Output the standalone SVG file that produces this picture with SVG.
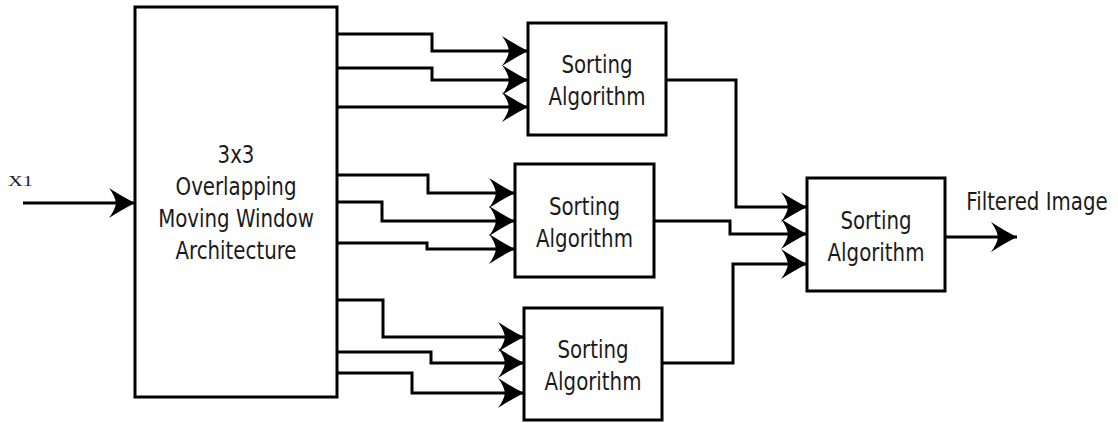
<svg xmlns="http://www.w3.org/2000/svg" width="1118" height="423" viewBox="0 0 1118 423">
<style>
.box{fill:#fff;stroke:#000;stroke-width:3}
.lbl{font-family:"DejaVu Sans Condensed","DejaVu Sans",sans-serif;font-stretch:condensed;font-size:22px;fill:#1a1a1a;text-anchor:middle}
.wire{fill:none;stroke:#000;stroke-width:3;marker-end:url(#arr)}
</style>
<defs>
<marker id="arr" markerUnits="userSpaceOnUse" markerWidth="40" markerHeight="40" refX="0" refY="0" orient="auto" overflow="visible">
<path d="M0,0 Q-12,-6 -26,-15 Q-20,-7 -19,0 Q-20,7 -26,15 Q-12,6 0,0 Z" fill="#000"/>
</marker>
</defs>
<rect width="1118" height="423" fill="#fff"/>
<g id="connectors">
<path class="wire" d="M23,203 H135"/>
<path class="wire" d="M337,34 H432 V51 H528"/>
<path class="wire" d="M337,68 H432 V80 H528"/>
<path class="wire" d="M337,107 H528"/>
<path class="wire" d="M337,175 H428 V193 H515"/>
<path class="wire" d="M337,202 H382 V221 H515"/>
<path class="wire" d="M337,243 H427 V249 H515"/>
<path class="wire" d="M337,300 H383 V337 H524"/>
<path class="wire" d="M337,352 H431 V363 H524"/>
<path class="wire" d="M337,373 H412 V393 H524"/>
<path class="wire" d="M666,80 H736 V207 H807"/>
<path class="wire" d="M654,221 H730 V234 H807"/>
<path class="wire" d="M662,363 H733 V264 H807"/>
<path class="wire" d="M945,237 H1017"/>
</g>
<g id="input-label">
<text x="8" y="186" font-family="Liberation Serif, serif" font-size="14" fill="#1a1a1a" textLength="25" lengthAdjust="spacingAndGlyphs">X1</text>
</g>
<g id="window">
<rect class="box" x="135" y="7" width="202" height="390"/>
<text class="lbl" transform="translate(236,163) scale(1,1.15)">3x3</text>
<text class="lbl" transform="translate(236,195) scale(1,1.15)">Overlapping</text>
<text class="lbl" transform="translate(236,227) scale(1,1.15)">Moving Window</text>
<text class="lbl" transform="translate(236,259) scale(1,1.15)">Architecture</text>
</g>
<g id="sort1">
<rect class="box" x="528" y="23" width="138" height="112"/>
<text class="lbl" transform="translate(597,73) scale(1,1.15)">Sorting</text>
<text class="lbl" transform="translate(597,105) scale(1,1.15)">Algorithm</text>
</g>
<g id="sort2">
<rect class="box" x="515" y="164" width="139" height="113"/>
<text class="lbl" transform="translate(584.5,215) scale(1,1.15)">Sorting</text>
<text class="lbl" transform="translate(584.5,247) scale(1,1.15)">Algorithm</text>
</g>
<g id="sort3">
<rect class="box" x="524" y="308" width="138" height="112"/>
<text class="lbl" transform="translate(593,358) scale(1,1.15)">Sorting</text>
<text class="lbl" transform="translate(593,390) scale(1,1.15)">Algorithm</text>
</g>
<g id="sort4">
<rect class="box" x="807" y="178" width="138" height="113"/>
<text class="lbl" transform="translate(876,229) scale(1,1.15)">Sorting</text>
<text class="lbl" transform="translate(876,261) scale(1,1.15)">Algorithm</text>
</g>
<g id="output-label">
<text class="lbl" transform="translate(1037,210) scale(1,1.15)">Filtered Image</text>
</g>
</svg>
